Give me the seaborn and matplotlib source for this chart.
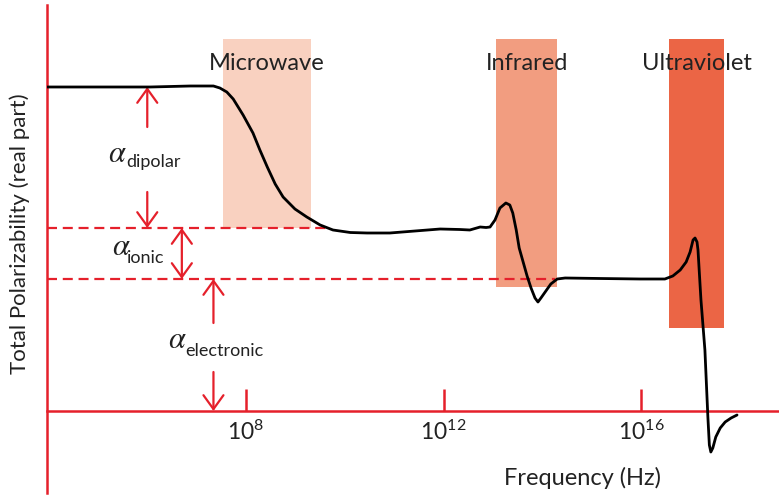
import numpy as np
import pandas as pd
import seaborn as sns
import matplotlib
matplotlib.use("Agg")
import matplotlib.pyplot as plt

# ---------------- data ----------------
log_freq = [3.97, 6.06, 6.87, 7.34, 7.47, 7.61, 7.74, 7.94, 8.14, 8.28, 8.43, 8.59, 8.75, 8.99,
            9.23, 9.50, 9.76, 10.11, 10.45, 10.91, 11.42, 11.93, 12.33, 12.53, 12.74,
            12.86, 12.94, 13.04, 13.14, 13.26, 13.34, 13.40, 13.47, 13.53, 13.61, 13.69,
            13.77, 13.85, 13.91, 13.97, 14.07, 14.17, 14.30, 14.46, 15.17, 15.98, 16.48,
            16.64, 16.79, 16.91, 16.99, 17.05, 17.09, 17.13, 17.15, 17.21, 17.29, 17.35,
            17.38, 17.41, 17.45, 17.51, 17.60, 17.70, 17.82, 17.94]
polarizability = [3.24, 3.24, 3.25, 3.25, 3.23, 3.19, 3.12, 2.96, 2.78, 2.61, 2.44, 2.27, 2.14, 2.02,
                  1.94, 1.86, 1.81, 1.785, 1.78, 1.78, 1.80, 1.82, 1.815, 1.81, 1.84,
                  1.835, 1.84, 1.91, 2.03, 2.08, 2.06, 1.98, 1.81, 1.63, 1.49, 1.35,
                  1.23, 1.13, 1.09, 1.13, 1.20, 1.27, 1.32, 1.33, 1.325, 1.32, 1.32,
                  1.35, 1.41, 1.49, 1.59, 1.71, 1.73, 1.69, 1.61, 1.11, 0.61, -0.06,
                  -0.34, -0.41, -0.37, -0.26, -0.17, -0.11, -0.07, -0.04]

bands = ["Microwave", "Infrared", "Ultraviolet"]
band_left = [7.53, 13.06, 16.57]
band_right = [9.31, 14.30, 17.68]
band_bottom = [1.83, 1.24, 0.83]
band_top = [3.72, 3.72, 3.72]
band_colors = ["#F9D1C0", "#F29D80", "#EB6545"]

level_dipolar = 3.24
level_ionic = 1.83
level_electronic = 1.32
dash_end = [9.70, 14.26]   # x where the dashed reference lines end

tick_pos = [8, 12, 16]
tick_labels = ["$10^{8}$", "$10^{12}$", "$10^{16}$"]

subs = ["dipolar", "ionic", "electronic"]

RED = "#E5202B"

# ---------------- style ----------------
sns.set_theme(style="white")
plt.rcParams["font.family"] = ["Lato", "DejaVu Sans"]
plt.rcParams["mathtext.fontset"] = "custom"
plt.rcParams["mathtext.rm"] = "Lato"
plt.rcParams["mathtext.it"] = "Lato:italic"
plt.rcParams["mathtext.bf"] = "Lato:bold"

fig = plt.figure(figsize=(7.79, 4.98), dpi=100)
ax = fig.add_axes([47 / 779, 5 / 498, (779 - 47) / 779, (493 - 5) / 498])
ax.set_xlim(3.97, 18.79)
ax.set_ylim(-0.82, 4.06)

# bands
for name, l, r, b, t, c in zip(bands, band_left, band_right, band_bottom, band_top, band_colors):
    ax.bar(l, t - b, bottom=b, width=r - l, align="edge", color=c, linewidth=0, zorder=1)
    ax.text((l + r) / 2, 3.48, name, ha="center", va="center", fontsize=17,
            color="#222222", zorder=5)

# dashed reference lines
ax.plot([3.97, dash_end[0]], [level_ionic, level_ionic], color=RED, lw=1.6,
        linestyle=(0, (4.5, 2.6)), zorder=2)
ax.plot([3.97, dash_end[1]], [level_electronic, level_electronic], color=RED, lw=1.6,
        linestyle=(0, (4.5, 2.6)), zorder=2)

# curve
df = pd.DataFrame({"f": log_freq, "p": polarizability})
sns.lineplot(data=df, x="f", y="p", sort=False, estimator=None, color="black",
             lw=2.0, ax=ax, zorder=4, solid_joinstyle="round", solid_capstyle="round")

# arrows
aprops = dict(arrowstyle="->,head_length=0.5,head_width=0.36", lw=1.6, color=RED,
              shrinkA=0, shrinkB=0, mutation_scale=20)
aprops2 = dict(arrowstyle="<->,head_length=0.5,head_width=0.36", lw=1.6, color=RED,
               shrinkA=0, shrinkB=0, mutation_scale=20)
# dipolar
ax.annotate("", xy=(6.00, level_dipolar), xytext=(6.00, 2.84), arrowprops=aprops, zorder=3)
ax.annotate("", xy=(6.00, level_ionic), xytext=(6.00, 2.19), arrowprops=aprops, zorder=3)
# ionic
ax.annotate("", xy=(6.70, level_electronic), xytext=(6.70, level_ionic), arrowprops=aprops2, zorder=3)
# electronic
ax.annotate("", xy=(7.34, level_electronic), xytext=(7.34, 0.88), arrowprops=aprops, zorder=3)
ax.annotate("", xy=(7.34, 0.0), xytext=(7.34, 0.39), arrowprops=aprops, zorder=3)

# alpha labels (positions)
alpha_x = [5.21, 5.29, 6.42]
alpha_y = [2.49, 1.56, 0.63]
sub_x = [5.57, 5.59, 6.77]
sub_y = [2.44, 1.48, 0.55]
for a_x, a_y, s_x, s_y, s in zip(alpha_x, alpha_y, sub_x, sub_y, subs):
    ax.text(a_x, a_y, r"$\alpha$", fontsize=22, math_fontfamily="stix",
            ha="left", va="baseline", color="#222222")
    ax.text(s_x, s_y, s, fontsize=13, ha="left", va="baseline", color="#222222")

# axes styling
for s in ["top", "right"]:
    ax.spines[s].set_visible(False)
ax.spines["bottom"].set_position(("data", 0))
ax.spines["bottom"].set_color(RED)
ax.spines["left"].set_color(RED)
ax.spines["bottom"].set_linewidth(1.8)
ax.spines["left"].set_linewidth(1.8)
ax.set_xticks(tick_pos)
ax.set_xticklabels(tick_labels, fontsize=16.5, color="#222222")
ax.set_yticks([])
ax.tick_params(axis="x", direction="in", length=16, width=1.8, color=RED, pad=6,
               bottom=True)
ax.set_xlabel("Frequency (Hz)", fontsize=17, color="#222222")
ax.xaxis.set_label_coords((582 - 47) / 732, (493 - 478) / 488)
ax.xaxis.label.set_va("center")
ax.set_ylabel("Total Polarizability (real part)", fontsize=16, color="#222222")
ax.yaxis.set_label_coords(-27 / 732, (493 - 234) / 488)
ax.yaxis.label.set_va("center")
ax.patch.set_alpha(0)

fig.savefig("out.png", dpi=100)
